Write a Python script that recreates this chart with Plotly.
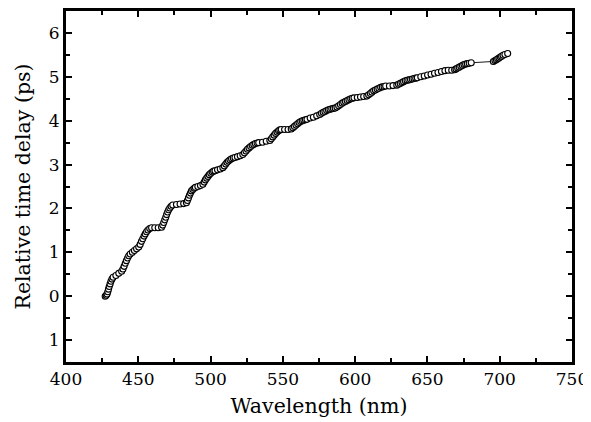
import plotly.graph_objects as go

wavelength_nm = [
    427.1, 427.8, 428.4, 428.9, 429.4, 429.9, 430.5, 431.1, 431.8, 432.6,
    434.5, 436.5, 438.5,
    439.4, 440.2, 441.0, 441.8, 442.6, 443.4, 444.4,
    445.9, 447.3, 448.8, 450.3,
    451.3, 452.2, 453.1, 454.0, 454.8, 455.7, 456.7, 457.9, 459.2,
    461.4, 463.8, 466.1,
    466.9, 467.6, 468.3, 469.0, 469.6, 470.3, 471.0, 471.8, 472.7, 473.8,
    476.4, 478.9, 481.4, 483.3,
    484.0, 484.7, 485.4, 486.1, 486.8, 487.7, 488.6, 489.5,
    491.2, 493.0, 494.7,
    495.6, 496.4, 497.3, 498.2, 499.1, 500.1, 501.1, 502.1, 503.1,
    504.8, 506.7, 508.5,
    509.5, 510.5, 511.4, 512.4, 513.4, 514.5, 515.7, 516.9,
    518.6, 520.5, 522.3,
    523.4, 524.5, 525.5, 526.6, 527.7, 528.8, 529.9, 531.0, 532.2, 533.3,
    535.9, 538.5, 541.0,
    542.0, 543.0, 544.0, 545.0, 546.0, 547.0, 547.9, 548.9,
    551.2, 553.6, 555.8,
    556.9, 558.0, 559.1, 560.2, 561.2, 562.3, 563.4, 564.5, 565.6, 566.7,
    568.9, 571.1, 573.4, 575.5,
    576.7, 577.9, 579.1, 580.3, 581.5, 582.6, 583.8, 585.0, 586.2, 587.4,
    588.6, 589.8, 591.0, 592.1, 593.3, 594.5, 595.7, 596.9, 598.0, 599.2,
    601.5, 603.7, 605.9, 608.1,
    609.3, 610.5, 611.6, 612.8, 614.0, 615.2, 616.4, 617.6, 618.8, 620.0, 621.1,
    623.7, 626.2, 628.8,
    630.0, 631.2, 632.4, 633.5, 634.7, 635.9, 637.1, 638.3, 639.5, 640.7, 641.9, 643.0,
    645.4, 647.8, 650.1, 652.5, 654.9, 657.3, 659.7, 662.1, 664.4, 666.8, 668.8,
    669.8, 670.9, 672.0, 673.1, 674.2, 675.3, 676.4, 677.6, 678.9, 680.3,
    695.6, 696.7, 697.7, 698.6, 699.5, 700.4, 701.3, 702.3, 703.6, 705.5,
]

delay_ps = [
    0.00, 0.02, 0.05, 0.10, 0.16, 0.22, 0.28, 0.34, 0.39, 0.43,
    0.47, 0.52, 0.57,
    0.62, 0.68, 0.75, 0.81, 0.87, 0.92, 0.96,
    1.00, 1.04, 1.08, 1.12,
    1.18, 1.25, 1.31, 1.37, 1.42, 1.47, 1.51, 1.54, 1.56,
    1.56, 1.56, 1.57,
    1.62, 1.68, 1.74, 1.80, 1.86, 1.92, 1.97, 2.01, 2.05, 2.08,
    2.09, 2.10, 2.11, 2.13,
    2.18, 2.24, 2.30, 2.35, 2.40, 2.43, 2.46, 2.48,
    2.50, 2.52, 2.55,
    2.60, 2.65, 2.69, 2.73, 2.77, 2.80, 2.83, 2.85, 2.86,
    2.88, 2.90, 2.93,
    2.97, 3.01, 3.05, 3.08, 3.11, 3.13, 3.15, 3.16,
    3.18, 3.20, 3.23,
    3.27, 3.31, 3.35, 3.38, 3.41, 3.44, 3.46, 3.48, 3.49, 3.50,
    3.51, 3.53, 3.55,
    3.59, 3.63, 3.67, 3.71, 3.74, 3.77, 3.79, 3.80,
    3.80, 3.80, 3.81,
    3.84, 3.87, 3.90, 3.93, 3.96, 3.98, 4.00, 4.01, 4.02, 4.03,
    4.06, 4.08, 4.11, 4.14,
    4.17, 4.19, 4.21, 4.23, 4.25, 4.26, 4.27, 4.28, 4.29, 4.31,
    4.34, 4.37, 4.40, 4.42, 4.44, 4.46, 4.48, 4.50, 4.51, 4.52,
    4.53, 4.54, 4.55, 4.56,
    4.59, 4.62, 4.65, 4.68, 4.70, 4.72, 4.74, 4.76, 4.77, 4.78, 4.79,
    4.79, 4.80, 4.81,
    4.83, 4.85, 4.87, 4.89, 4.91, 4.92, 4.93, 4.94, 4.95, 4.96, 4.97, 4.98,
    5.00, 5.02, 5.04, 5.06, 5.08, 5.10, 5.12, 5.14, 5.15, 5.15, 5.16,
    5.18, 5.20, 5.22, 5.24, 5.26, 5.28, 5.29, 5.30, 5.31, 5.32,
    5.35, 5.37, 5.39, 5.41, 5.43, 5.45, 5.47, 5.49, 5.51, 5.53,
]

x_tick_vals = [400, 450, 500, 550, 600, 650, 700, 750]
y_tick_vals = [-1, 0, 1, 2, 3, 4, 5, 6]
y_tick_text = ["1", "0", "1", "2", "3", "4", "5", "6"]

fig = go.Figure()
fig.add_trace(go.Scatter(
    x=wavelength_nm, y=delay_ps, mode="lines+markers",
    line=dict(color="black", width=0.9),
    marker=dict(symbol="circle", size=6, color="white",
                line=dict(color="black", width=1.1)),
    showlegend=False,
))

font_family = "DejaVu Serif"
axis_common = dict(
    showline=True, linecolor="black", linewidth=3, mirror="ticks",
    ticks="inside", ticklen=6, tickwidth=2, tickcolor="black",
    showgrid=False, zeroline=False, ticklabeloverflow="allow",
    tickfont=dict(family=font_family, size=17, color="black"),
)

fig.update_xaxes(
    range=[400, 750], tickvals=x_tick_vals,
    minor=dict(ticks="inside", ticklen=4, tickwidth=2, dtick=25, tickcolor="black", showgrid=False),
    title=dict(text="Wavelength (nm)", font=dict(family=font_family, size=20.5, color="black"), standoff=11),
    **axis_common,
)
fig.update_yaxes(
    range=[-1.5, 6.5], tickvals=y_tick_vals, ticktext=y_tick_text,
    minor=dict(ticks="inside", ticklen=4, tickwidth=2, dtick=0.5, tickcolor="black", showgrid=False),
    title=dict(text="Relative time delay (ps)", font=dict(family=font_family, size=20.5, color="black"), standoff=13),
    **axis_common,
)

fig.update_layout(
    width=583, height=414,
    margin=dict(l=58, r=19, t=3, b=60, autoexpand=False),
    paper_bgcolor="white", plot_bgcolor="white",
    font=dict(family=font_family),
)

fig.write_html("out.html")
